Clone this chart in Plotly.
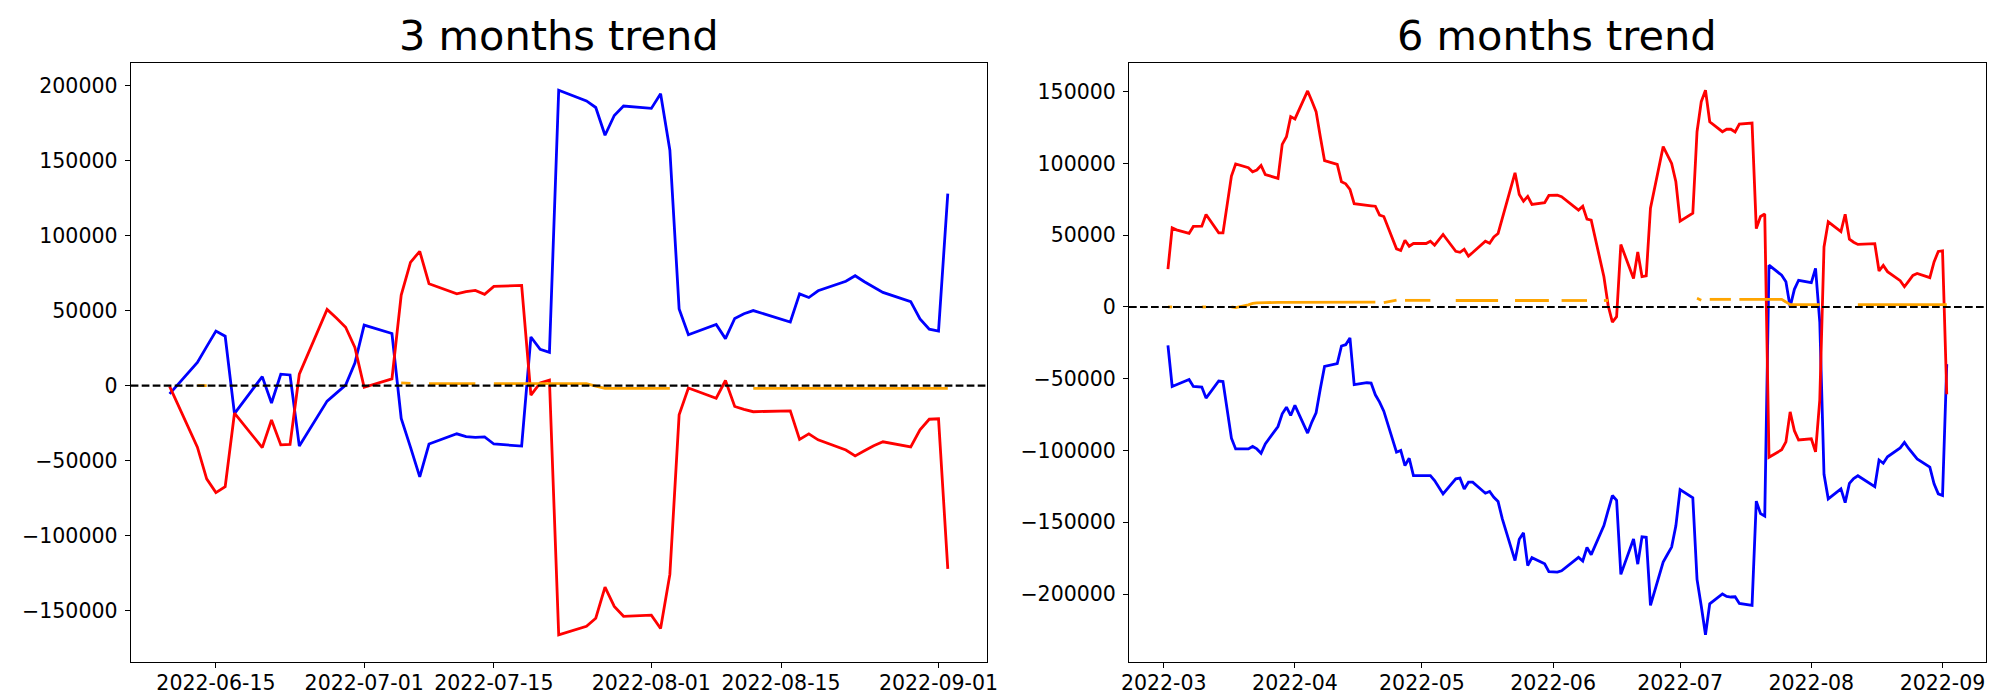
import pandas as pd
import plotly.graph_objects as go

# ---------------- data ----------------
HOLIDAYS = ["2022-03-09", "2022-05-05", "2022-06-01", "2022-06-06", "2022-08-15"]


def trading_days(start, end):
    d = pd.bdate_range(start, end)
    return d[~d.isin(pd.to_datetime(HOLIDAYS))]


dates_3m = trading_days("2022-06-10", "2022-09-02")
dates_6m = trading_days("2022-03-02", "2022-09-02")

# 3 months trend (Jun 10 .. Sep 2)
blue_3m = [
    -5500, 15500, 26000, 36300, 32900, -18700, 6000, -11600, 7600, 7100, -40300, -10300, -5000, 300, 15000,
    40300, 34700, -21800, -41000, -60800, -38900, -32100, -34000, -34500, -34200, -38900, -40300, 32400, 24200,
    22100, 196800, 189700, 185300, 166800, 180000, 186300,
    184700, 194500, 156800, 51000, 33900, 40800, 31300, 44700, 47900, 50000, 42400, 61100, 58700, 63200, 69500,
    73200, 69200, 65500, 62100, 56000, 44500, 37600,
    36300, 127900,
]
red_3m = [
    -500, -41000, -62100, -71300, -67400, -18400, -41300, -22900, -39500, -39200, 7600, 50800, 45000, 38900, 25500,
    -1100, 4500, 60300, 82100, 89500, 67900, 61100, 62600, 63400, 60800, 66100, 66800, -6300, 1800, 3700,
    -166000, -160300, -155000, -134200, -147100, -153700,
    -152900, -161800, -125800, -19500, -1600, -8400, 3400, -13900, -15800, -17400, -16800, -35800, -32100, -36100,
    -42900, -46800, -43400, -40000, -37400, -40800, -29500, -22400,
    -22100, -122100,
]
orange_3m = (
    [None, 0, 0] + [None] * 12
    + [None, None, 1800, 1500, None, 1300, 1300, 1300, 1300, None, 1300, 1300, 1300, 1300, 1300, 1300, 1300,
       -300, -1800, -1800, -1800]
    + [-1800, -1800, -1800, None, None, None, None, None, None, -1800] + [-1800] * 12
    + [-1800, -1800]
)

# 6 months trend (Mar 2 .. Sep 2)
red_6m = [
    26300, 55100, 53700, 51200, 56100, 56300, 64400, 51600, 51600, 70900, 91200, 99600, 97000, 94200, 95400,
    98600, 92300, 89600, 113300, 118600, 132600,
    131000, 150500, 143500, 136100, 118600, 101900, 99300, 87200, 85800, 81900, 71900, 70500, 70500, 70200,
    64000, 63000, 40500, 39300, 46500, 42300, 44200,
    44200, 45800, 43000, 50500, 38800, 38100, 40200, 35400, 37900, 45800, 44400, 48800, 51200, 61600, 93500,
    78400, 73700, 77000, 71400, 72600, 77700,
    77900, 76800, 67500, 70200, 61200, 60500, 21000, 1000, -10500, -6800, 43500, 19800, 38300, 21200, 21700,
    68800, 111700, 105800, 100000, 87200,
    59800, 65300, 122100, 143000, 151000, 129000, 122100, 123800, 123800, 121900, 127400, 128100, 54600, 63000,
    64800, -104700, -99500, -94000, -73100, -86200, -92700,
    -91900, -100900, -64700, 41800, 59300, 52500, 64600, 47200, 45100, 43600, 44100, 25100, 28900, 24600, 18300,
    14100, 18000, 22000, 23300, 20400, 31400, 38700,
    39100, -60800,
]
blue_6m = [
    -26700, -55400, -54200, -50500, -55400, -55800, -63500, -51600, -51900, -73300, -91400, -98900, -98900,
    -97200, -98900, -101900, -95400, -83300, -74400, -69800, -75600,
    -68600, -87900, -80200, -73700, -57000, -41400, -39500, -27200, -26300, -21600, -54200, -52800, -53000,
    -61200, -66300, -72600, -101200, -100000, -110500, -105400, -117500,
    -117500, -117500, -121000, -130300, -119800, -119300, -126800, -122100, -122100, -129800, -128600, -132600,
    -135600, -147700, -176700, -161800, -157400, -180200, -174700, -178900, -184400,
    -184700, -183800, -174500, -177000, -167600, -172600, -152300, -141800, -131400, -134700, -186300, -161700,
    -179200, -160100, -160500, -207900, -177800, -172500, -167300, -152500,
    -127200, -132900, -189800, -208300, -228400, -206800, -200000, -201700, -202100, -201900, -206600, -207900,
    -135300, -144000, -145700, 29100, 22100, 17600, 0, 12300, 18600,
    17000, 26900, -10600, -116600, -133700, -126800, -136300, -122900, -119500, -117600, -125200, -106600,
    -108900, -104400, -98200, -94400, -98600, -102500, -105900, -111600, -123200, -130200,
    -131400, -39800,
]
orange_6m = (
    [0, 0, None, None, None, 0, 0, None, None, None, 0, -500, 1500, 2500, 2800, 3000, 3000, 3200, 3200, 3200, 3200]
    + [3300, 3300, 3300, 3300, 3300, 3300, 3400, 3400, 3500, 3500, 3400, 3400, 3400, 3400, None, 3000, 4700, None,
       4600, 4600, 4600]
    + [4600, 4600, None, None, 4500, 4500, 4500, 4500, 4500, 4500, 4500, 4500, 4500, None, 4500, 4500, 4500, 4500,
       4500, 4500, 4500]
    + [None, 4500, 4500, 4500, 4500, None, 4500, 4500] + [None] * 12
    + [None, None, 6000, 4700, None, 5300, 5300, 5300, 5300, None, 5300, 5300, 5300, 5300, 5300, 5300, 5300, 3500,
       1600, 1600, 1600]
    + [1600, 1600, 1600, None, None, None, None, None, None, 1600] + [1600] * 12
    + [1600, 1600]
)

titles = ["3 months trend", "6 months trend"]
xticks_3m = ["2022-06-15", "2022-07-01", "2022-07-15", "2022-08-01", "2022-08-15", "2022-09-01"]
xticks_6m = ["2022-03", "2022-04", "2022-05", "2022-06", "2022-07", "2022-08", "2022-09"]
yticks_3m = [-150000, -100000, -50000, 0, 50000, 100000, 150000, 200000]
yticks_6m = [-200000, -150000, -100000, -50000, 0, 50000, 100000, 150000]

# ---------------- layout helpers ----------------
W, H = 2000, 700
AX_X = [(122.7, 978.7), (1121.0, 1977.7)]
AX_Y = (55.0, 654.0)
FONT = "DejaVu Sans"


def padded(*series):
    vals = [v for s in series for v in s if v is not None]
    lo, hi = min(vals), max(vals)
    p = (hi - lo) * 0.05
    return [lo - p, hi + p]


def date_range(dates):
    lo, hi = dates.min(), dates.max()
    p = (hi - lo) * 0.05
    return [(lo - p).strftime("%Y-%m-%d %H:%M:%S"), (hi + p).strftime("%Y-%m-%d %H:%M:%S")]


def ylabel(v):
    return ("\u2212" + str(-v)) if v < 0 else str(v)


fig = go.Figure()

panels = [
    (dates_3m, blue_3m, red_3m, orange_3m, xticks_3m, xticks_3m, yticks_3m),
    (dates_6m, blue_6m, red_6m, orange_6m, [t + "-01" for t in xticks_6m], xticks_6m, yticks_6m),
]

for i, (dates, blue, red, orange, xtv, xtt, ytv) in enumerate(panels):
    sfx = "" if i == 0 else str(i + 1)
    xa, ya = "x" + sfx, "y" + sfx
    for vals, col in ((blue, "#0000ff"), (red, "#ff0000"), (orange, "#ffa500")):
        fig.add_trace(go.Scatter(
            x=dates, y=vals, mode="lines", line=dict(color=col, width=2.8),
            xaxis=xa, yaxis=ya, showlegend=False, connectgaps=False,
        ))
    axis_common = dict(
        showgrid=False, zeroline=False, showline=True, mirror=True, linecolor="black", linewidth=1.1,
        ticks="outside", ticklen=5, tickwidth=1.1, tickcolor="black", automargin=False, tickangle=0,
        tickfont=dict(family=FONT, size=20.5, color="black"),
    )
    fig.update_layout(**{
        "xaxis" + sfx: dict(
            axis_common, type="date", domain=[AX_X[i][0] / W, AX_X[i][1] / W],
            range=date_range(dates), tickmode="array", tickvals=xtv, ticktext=xtt,
            anchor=ya, ticklabelstandoff=-3,
        ),
        "yaxis" + sfx: dict(
            axis_common, domain=[1 - AX_Y[1] / H, 1 - AX_Y[0] / H],
            range=padded(blue, red, orange), tickmode="array", tickvals=ytv,
            ticktext=[ylabel(v) for v in ytv], anchor=xa, ticklabelstandoff=3,
        ),
    })
    fig.add_shape(
        type="line", xref=xa + " domain", yref=ya, x0=0, x1=1, y0=0, y1=0,
        line=dict(color="black", width=2.1, dash="7.7px,3.3px"), layer="above",
    )
    fig.add_annotation(
        text=titles[i], xref="paper", yref="paper",
        x=(AX_X[i][0] + AX_X[i][1]) / 2 / W, y=1 - 27 / H,
        xanchor="center", yanchor="middle", showarrow=False,
        font=dict(family=FONT, size=41.5, color="black"),
    )

fig.update_layout(
    width=W, height=H, margin=dict(l=0, r=0, t=0, b=0, pad=0, autoexpand=False),
    paper_bgcolor="white", plot_bgcolor="white",
    font=dict(family=FONT, color="black"),
)

fig.write_html("out.html")
